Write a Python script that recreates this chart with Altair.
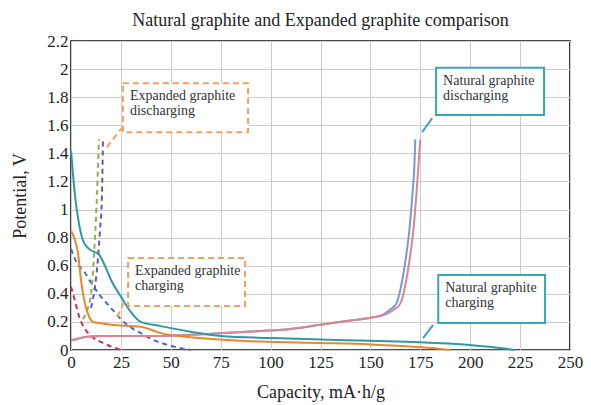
import altair as alt
import pandas as pd

# --- curves: capacity (mA·h/g) vs potential (V) ---
ng_charge_x = [0, 1, 2, 4, 6, 9, 14, 17, 20, 25, 30, 35, 45, 60, 75, 100, 125, 150, 175, 200, 215, 222]
ng_charge_y = [1.42, 1.25, 1.1, 0.9, 0.78, 0.72, 0.68, 0.6, 0.5, 0.38, 0.27, 0.2, 0.17, 0.13, 0.1, 0.085, 0.075, 0.065, 0.055, 0.035, 0.015, 0.0]

eg_charge_x = [0, 1, 2, 3.5, 5, 7, 9, 11, 15, 20, 35, 45, 60, 95, 125, 150, 175, 185, 190]
eg_charge_y = [0.85, 0.82, 0.78, 0.69, 0.5, 0.33, 0.24, 0.2, 0.19, 0.18, 0.165, 0.12, 0.09, 0.06, 0.05, 0.04, 0.02, 0.008, 0.0]

ng_dis_red_x = [0, 2, 4.5, 8, 15, 45, 70, 95, 110, 125, 140, 150, 157, 162, 165, 168, 170, 171.5, 173, 174, 175]
ng_dis_red_y = [0.07, 0.075, 0.085, 0.095, 0.1, 0.1, 0.115, 0.135, 0.15, 0.18, 0.21, 0.23, 0.25, 0.29, 0.33, 0.5, 0.68, 0.85, 1.1, 1.3, 1.5]

ng_dis_blue_x = [0, 2, 4.5, 8, 15, 45, 70, 95, 110, 125, 140, 150, 156, 160, 163, 166, 168, 169.5, 171, 172, 172.5]
ng_dis_blue_y = [0.07, 0.075, 0.085, 0.095, 0.1, 0.1, 0.115, 0.135, 0.15, 0.18, 0.21, 0.23, 0.25, 0.29, 0.33, 0.5, 0.68, 0.85, 1.1, 1.3, 1.5]

eg_dis_green_x = [6, 8, 10, 11, 12, 13, 13.5, 14]
eg_dis_green_y = [0.22, 0.28, 0.4, 0.55, 0.8, 1.1, 1.3, 1.5]

eg_dis_purple_x = [10, 12, 13.5, 14.5, 15.5, 16]
eg_dis_purple_y = [0.3, 0.45, 0.65, 0.85, 1.1, 1.5]

eg_dash_blue_x = [0, 3, 7, 10, 15, 20, 25, 30, 35, 40, 50, 60]
eg_dash_blue_y = [0.72, 0.62, 0.55, 0.48, 0.38, 0.3, 0.22, 0.16, 0.12, 0.08, 0.03, 0.0]

eg_dash_red_x = [0, 2, 4, 7, 11, 16, 21, 25]
eg_dash_red_y = [0.45, 0.35, 0.24, 0.15, 0.09, 0.05, 0.02, 0.0]

# name, x values, y values, colour, dashed?
series = [
    ("eg_dash_red", eg_dash_red_x, eg_dash_red_y, "#C2345E", True),
    ("eg_dash_blue", eg_dash_blue_x, eg_dash_blue_y, "#4A6EC4", True),
    ("eg_dis_green", eg_dis_green_x, eg_dis_green_y, "#8DB34A", True),
    ("eg_dis_purple", eg_dis_purple_x, eg_dis_purple_y, "#6654B8", True),
    ("ng_dis_blue", ng_dis_blue_x, ng_dis_blue_y, "#7A98D8", False),
    ("ng_dis_red", ng_dis_red_x, ng_dis_red_y, "#D9868E", False),
    ("eg_charge", eg_charge_x, eg_charge_y, "#E8872C", False),
    ("ng_charge", ng_charge_x, ng_charge_y, "#2E98A6", False),
]

# --- callout boxes (data coordinates) ---
box_x = [26.0, 28.6, 182.9, 184.0]
box_x2 = [88.7, 87.2, 237.0, 237.5]
box_y = [1.90, 0.655, 2.01, 0.534]
box_y2 = [1.55, 0.313, 1.673, 0.192]
box_text = ["Expanded graphite\ndischarging", "Expanded graphite\ncharging",
            "Natural graphite\ndischarging", "Natural graphite\ncharging"]
box_kind = ["eg", "eg", "ng", "ng"]
lead_x = [26.0, 26.5, 180.9, 181.4]
lead_y = [1.59, 0.34, 1.65, 0.178]
lead_x2 = [18.0, 23.0, 175.9, 176.4]
lead_y2 = [1.445, 0.23, 1.55, 0.085]

boxes = pd.DataFrame({"x": box_x, "x2": box_x2, "y": box_y, "y2": box_y2,
                      "label": box_text, "kind": box_kind,
                      "lx": lead_x, "ly": lead_y, "lx2": lead_x2, "ly2": lead_y2})

serif = "Liberation Serif"
x_ticks = list(range(0, 251, 25))
y_ticks = [0, 0.2, 0.4, 0.6, 0.8, 1, 1.2, 1.4, 1.6, 1.8, 2, 2.2]

xs = alt.Scale(domain=[0, 250], nice=False)
ys = alt.Scale(domain=[0, 2.2], nice=False)

x_axis = alt.Axis(values=x_ticks, title="Capacity, mA·h/g", ticks=False, labelPadding=4,
                  grid=True, gridColor="#cccccc", labelFont=serif, labelFontSize=17,
                  labelColor="#222", titleFont=serif, titleFontSize=18, titleFontWeight="normal",
                  titleColor="#222", titlePadding=13, domain=False, labelFlush=False,
                  labelOverlap=False)
y_axis = alt.Axis(values=y_ticks, title="Potential, V", ticks=False, labelPadding=3,
                  grid=True, gridColor="#cccccc", labelFont=serif, labelFontSize=17,
                  labelColor="#222", titleFont=serif, titleFontSize=18, titleFontWeight="normal",
                  titleColor="#222", titlePadding=17, domain=False, labelFlush=False,
                  labelOverlap=False, format=".1~f")


def xq(field):
    return alt.X(field, type="quantitative", scale=xs, axis=x_axis)


def yq(field):
    return alt.Y(field, type="quantitative", scale=ys, axis=y_axis)


layers = []
for name, sx, sy, colour, dashed in series:
    d = pd.DataFrame({"cap": sx, "pot": sy, "i": range(len(sx))})
    mark_kw = dict(strokeWidth=2, interpolate="monotone", color=colour)
    if dashed:
        mark_kw["strokeDash"] = [5, 4]
    layers.append(alt.Chart(d).mark_line(**mark_kw).encode(
        x=xq("cap"), y=yq("pot"), order=alt.Order("i:Q")))

kind_style = {"eg": ("#F0A060", [6, 4]), "ng": ("#3AA6B4", [1, 0])}
for kind, (colour, dash) in kind_style.items():
    sub = boxes[boxes["kind"] == kind]
    layers.append(alt.Chart(sub).mark_rule(strokeWidth=2, color=colour, strokeDash=dash).encode(
        x=xq("lx"), y=yq("ly"), x2="lx2:Q", y2="ly2:Q"))
    layers.append(alt.Chart(sub).mark_rect(fill="white", stroke=colour, strokeWidth=2,
                                           strokeDash=dash).encode(
        x=xq("x"), x2="x2:Q", y=yq("y"), y2="y2:Q"))

layers.append(alt.Chart(boxes).mark_text(
    align="left", baseline="top", dx=7, dy=6, font=serif, fontSize=14,
    color="#333", lineBreak="\n", lineHeight=15
).encode(x=xq("x"), y=yq("y"), text="label:N"))

chart = alt.layer(*layers).properties(
    width=499, height=309,
    title=alt.TitleParams("Natural graphite and Expanded graphite comparison",
                          font=serif, fontSize=18, fontWeight="normal", color="#222",
                          anchor="middle", offset=2),
    padding={"left": 71, "top": 41, "right": 21, "bottom": 55},
    autosize=alt.AutoSizeParams(type="none"),
).configure_view(stroke="#111", strokeWidth=1.6)

chart.save("out.html", embed_options={"renderer": "svg", "actions": False})
